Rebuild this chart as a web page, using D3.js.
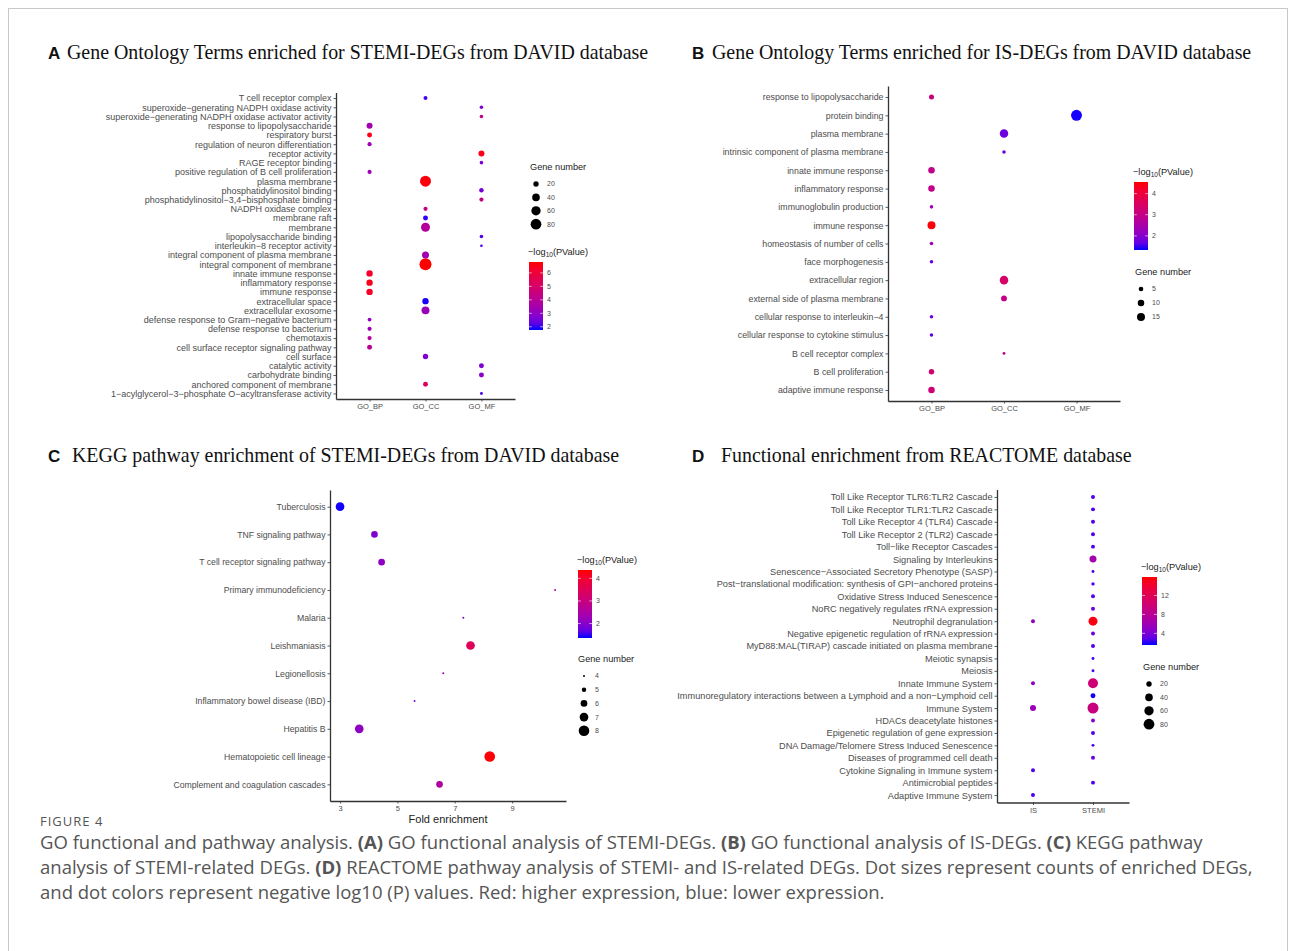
<!DOCTYPE html>
<html>
<head>
<meta charset="utf-8">
<script src="https://cdn.jsdelivr.net/npm/d3@7"></script>
<style>
body { margin: 0; background: #fff; }
text { font-family: "Liberation Sans", Arial, sans-serif; }
</style>
</head>
<body>
<svg id="fig" width="1290" height="951"></svg>
<script>
// ---- A: GO terms, STEMI-DEGs ----
const goStemiTerms = ["T cell receptor complex","superoxide\u2212generating NADPH oxidase activity","superoxide\u2212generating NADPH oxidase activator activity","response to lipopolysaccharide","respiratory burst","regulation of neuron differentiation","receptor activity","RAGE receptor binding","positive regulation of B cell proliferation","plasma membrane","phosphatidylinositol binding","phosphatidylinositol\u22123,4\u2212bisphosphate binding","NADPH oxidase complex","membrane raft","membrane","lipopolysaccharide binding","interleukin\u22128 receptor activity","integral component of plasma membrane","integral component of membrane","innate immune response","inflammatory response","immune response","extracellular space","extracellular exosome","defense response to Gram\u2212negative bacterium","defense response to bacterium","chemotaxis","cell surface receptor signaling pathway","cell surface","catalytic activity","carbohydrate binding","anchored component of membrane","1\u2212acylglycerol\u22123\u2212phosphate O\u2212acyltransferase activity"];
const goStemiOnt = ["GO_CC","GO_MF","GO_MF","GO_BP","GO_BP","GO_BP","GO_MF","GO_MF","GO_BP","GO_CC","GO_MF","GO_MF","GO_CC","GO_CC","GO_CC","GO_MF","GO_MF","GO_CC","GO_CC","GO_BP","GO_BP","GO_BP","GO_CC","GO_CC","GO_BP","GO_BP","GO_BP","GO_BP","GO_CC","GO_MF","GO_MF","GO_CC","GO_MF"];
const goStemiCount = [11,9,9,25,17,12,25,9,12,84,14,12,12,17,56,9,5,34,100,28,28,28,28,44,10,12,12,17,20,17,17,17,6];
const goStemiLogP = [2.0,2.7,4.4,3.4,6.6,3.3,6.6,2.6,3.3,6.7,2.5,4.4,4.4,1.9,3.9,2.1,2.1,3.4,6.8,6.3,6.5,6.3,1.8,3.2,3.1,3.3,3.9,4.0,2.7,2.7,2.9,5.3,2.1];

// ---- B: GO terms, IS-DEGs ----
const goIsTerms = ["response to lipopolysaccharide","protein binding","plasma membrane","intrinsic component of plasma membrane","innate immune response","inflammatory response","immunoglobulin production","immune response","homeostasis of number of cells","face morphogenesis","extracellular region","external side of plasma membrane","cellular response to interleukin\u22124","cellular response to cytokine stimulus","B cell receptor complex","B cell proliferation","adaptive immune response"];
const goIsOnt = ["GO_BP","GO_MF","GO_CC","GO_CC","GO_BP","GO_BP","GO_BP","GO_BP","GO_BP","GO_BP","GO_CC","GO_CC","GO_BP","GO_BP","GO_CC","GO_BP","GO_BP"];
const goIsCount = [6,28,17,3,10,10,3,15,3,3,17,8,3,3,2,7,10];
const goIsLogP = [3.1,1.35,1.75,1.75,2.95,2.95,2.3,4.5,2.3,1.7,3.4,3.0,1.7,1.7,3.0,3.3,3.2];

// ---- C: KEGG, STEMI-DEGs ----
const keggTerms = ["Tuberculosis","TNF signaling pathway","T cell receptor signaling pathway","Primary immunodeficiency","Malaria","Leishmaniasis","Legionellosis","Inflammatory bowel disease (IBD)","Hepatitis B","Hematopoietic cell lineage","Complement and coagulation cascades"];
const keggFold = [3.0,4.2,4.45,10.5,7.3,7.55,6.6,5.6,3.67,8.22,6.47];
const keggCount = [7,6,6,4,4,7,4,4,7,8,6];
const keggLogP = [1.38,1.95,2.1,2.7,1.95,3.5,2.25,1.85,2.1,4.35,2.55];
const keggTicks = [3,5,7,9];

// ---- D: REACTOME ----
const reactTerms = ["Toll Like Receptor TLR6:TLR2 Cascade","Toll Like Receptor TLR1:TLR2 Cascade","Toll Like Receptor 4 (TLR4) Cascade","Toll Like Receptor 2 (TLR2) Cascade","Toll\u2212like Receptor Cascades","Signaling by Interleukins","Senescence\u2212Associated Secretory Phenotype (SASP)","Post\u2212translational modification: synthesis of GPI\u2212anchored proteins","Oxidative Stress Induced Senescence","NoRC negatively regulates rRNA expression","Neutrophil degranulation","Negative epigenetic regulation of rRNA expression","MyD88:MAL(TIRAP) cascade initiated on plasma membrane","Meiotic synapsis","Meiosis","Innate Immune System","Immunoregulatory interactions between a Lymphoid and a non\u2212Lymphoid cell","Immune System","HDACs deacetylate histones","Epigenetic regulation of gene expression","DNA Damage/Telomere Stress Induced Senescence","Diseases of programmed cell death","Cytokine Signaling in Immune system","Antimicrobial peptides","Adaptive Immune System"];
const reactGroups = ["IS","STEMI"];
const isCount = [null,null,null,null,null,null,null,null,null,null,11,null,null,null,null,11,null,25,null,null,null,null,11,null,11];
const isLogP = [null,null,null,null,null,null,null,null,null,null,5.1,null,null,null,null,5.1,null,5.8,null,null,null,null,2.5,null,2.5];
const stemiCount = [11,11,11,11,11,34,6,8,11,11,56,11,11,6,6,69,17,84,11,11,6,11,null,11,null];
const stemiLogP = [2.5,2.5,2.5,2.5,2.5,6.3,2.3,2.5,2.6,3.5,15.5,3.5,2.6,2.3,2.3,9.9,1.6,9.4,4.7,2.6,2.2,3.2,null,2.4,null];

const captionLines = [
  [["GO functional and pathway analysis. ",0],["(A)",1],[" GO functional analysis of STEMI-DEGs. ",0],["(B)",1],[" GO functional analysis of IS-DEGs. ",0],["(C)",1],[" KEGG pathway",0]],
  [["analysis of STEMI-related DEGs. ",0],["(D)",1],[" REACTOME pathway analysis of STEMI- and IS-related DEGs. Dot sizes represent counts of enriched DEGs,",0]],
  [["and dot colors represent negative log10 (P) values. Red: higher expression, blue: lower expression.",0]]
];

const svg = d3.select("#fig");
const defs = svg.append("defs");
const ramp = d3.interpolateLab("#0000ff", "#ff0000");
const axisColor = "#333333";
const labelColor = "#4d4d4d";

// frame
svg.append("rect").attr("x", 8.5).attr("y", 8.5).attr("width", 1279).attr("height", 960)
  .attr("fill", "none").attr("stroke", "#c8c8c8");

function styleAxis(a, fs) {
  a.attr("font-size", null).attr("font-family", null);
  a.select(".domain").attr("stroke", axisColor).attr("stroke-width", 1.3);
  a.selectAll(".tick line").attr("stroke", axisColor).attr("stroke-width", 0.8);
  a.selectAll(".tick text").attr("fill", labelColor).style("font-size", fs + "px");
}

function panel(p) {
  const g = svg.append("g");
  const y = d3.scalePoint().domain(p.terms).range([p.top, p.bottom]).padding(0.6);
  const col = d3.scaleLinear().domain(p.cdomain).range([0, 1]).clamp(true);

  const ya = g.append("g").attr("transform", `translate(${p.left},0)`)
    .call(d3.axisLeft(y).tickSize(2.5).tickSizeOuter(0).tickPadding(2));
  styleAxis(ya, p.yfs);
  const xa = g.append("g").attr("transform", `translate(0,${p.bottom})`)
    .call(p.xAxis.tickSize(2.5).tickSizeOuter(0).tickPadding(2.5));
  styleAxis(xa, p.xfs);

  g.append("g").selectAll("circle")
    .data(p.points)
    .join("circle")
    .attr("cx", d => p.x(d.x))
    .attr("cy", d => y(d.term))
    .attr("r", d => p.size(d.count))
    .attr("fill", d => ramp(col(d.logp)));

  if (p.xlabel) {
    g.append("text").attr("x", (p.x.range()[0] + p.x.range()[1]) / 2).attr("y", p.bottom + 22)
      .attr("text-anchor", "middle").attr("fill", "#222").style("font-size", "11px").text(p.xlabel);
  }
}

function colorBar(id, x, y, w, h, domain, ticks) {
  const gr = defs.append("linearGradient").attr("id", id)
    .attr("x1", 0).attr("y1", 1).attr("x2", 0).attr("y2", 0);
  d3.range(0, 1.0001, 0.1).forEach(t => gr.append("stop").attr("offset", t).attr("stop-color", ramp(t)));
  const g = svg.append("g");
  g.append("text").attr("x", x - 1).attr("y", y - 7).attr("fill", "#222").style("font-size", "9.2px")
    .call(t => {
      t.append("tspan").text("\u2212log");
      t.append("tspan").attr("dy", 2).style("font-size", "6.5px").text("10");
      t.append("tspan").attr("dy", -2).text("(PValue)");
    });
  g.append("rect").attr("x", x).attr("y", y).attr("width", w).attr("height", h).attr("fill", `url(#${id})`);
  const s = d3.scaleLinear().domain(domain).range([y + h, y]);
  ticks.forEach(v => {
    g.append("line").attr("x1", x).attr("x2", x + w / 5).attr("y1", s(v)).attr("y2", s(v)).attr("stroke", "#fff").attr("stroke-width", 0.6);
    g.append("line").attr("x1", x + w - w / 5).attr("x2", x + w).attr("y1", s(v)).attr("y2", s(v)).attr("stroke", "#fff").attr("stroke-width", 0.6);
    g.append("text").attr("x", x + w + 4).attr("y", s(v)).attr("dy", "0.35em").attr("fill", labelColor)
      .style("font-size", "7px").text(v);
  });
}

function sizeLegend(x, y, step, values, size) {
  const g = svg.append("g");
  g.append("text").attr("x", x).attr("y", y).attr("fill", "#222").style("font-size", "9.2px").text("Gene number");
  values.forEach((v, i) => {
    const cy = y + 14 + i * step;
    g.append("circle").attr("cx", x + 6).attr("cy", cy).attr("r", size(v)).attr("fill", "#000");
    g.append("text").attr("x", x + 17).attr("y", cy).attr("dy", "0.35em").attr("fill", labelColor)
      .style("font-size", "7px").text(v);
  });
}

function title(x, y, letter, txt, gap) {
  svg.append("text").attr("x", x).attr("y", y).attr("fill", "#111")
    .style("font-size", "17px").style("font-weight", "bold").text(letter);
  svg.append("text").attr("x", x + gap).attr("y", y).attr("fill", "#111")
    .style("font-family", "'Liberation Serif', 'Times New Roman', serif").style("font-size", "19.9px").text(txt);
}

// ---- panel A ----
const sizeA = d3.scaleSqrt().domain([0, 100]).range([0, 6]);
const xA = d3.scalePoint().domain(["GO_BP","GO_CC","GO_MF"]).range([336, 515]).padding(0.6);
panel({
  terms: goStemiTerms, top: 92.5, bottom: 399, left: 336, x: xA, xAxis: d3.axisBottom(xA),
  yfs: 9, xfs: 7.5, size: sizeA, cdomain: [1.76, 6.81],
  points: goStemiTerms.map((t, i) => ({term: t, x: goStemiOnt[i], count: goStemiCount[i], logp: goStemiLogP[i]}))
});
sizeLegend(530, 170, 13.4, [20, 40, 60, 80], sizeA);
colorBar("gA", 529, 262, 14, 68, [1.76, 6.81], [2, 3, 4, 5, 6]);
title(48, 59, "A", "Gene Ontology Terms enriched for STEMI-DEGs from DAVID database", 19);

// ---- panel B ----
const sizeB = d3.scaleSqrt().domain([0, 30]).range([0, 5.65]);
const xB = d3.scalePoint().domain(["GO_BP","GO_CC","GO_MF"]).range([888, 1120]).padding(0.6);
panel({
  terms: goIsTerms, top: 86, bottom: 401, left: 888, x: xB, xAxis: d3.axisBottom(xB),
  yfs: 8.8, xfs: 7.5, size: sizeB, cdomain: [1.33, 4.55],
  points: goIsTerms.map((t, i) => ({term: t, x: goIsOnt[i], count: goIsCount[i], logp: goIsLogP[i]}))
});
colorBar("gB", 1134, 182, 14, 68, [1.33, 4.55], [2, 3, 4]);
sizeLegend(1135, 275, 14, [5, 10, 15], sizeB);
title(692, 59, "B", "Gene Ontology Terms enriched for IS-DEGs from DAVID database", 20);

// ---- panel C ----
const sizeC = d3.scaleSqrt().domain([4, 8]).range([1, 5.3]);
const xC = d3.scaleLinear().domain([2.65, 10.88]).range([330, 566]);
panel({
  terms: keggTerms, top: 490, bottom: 801, left: 330, x: xC, xAxis: d3.axisBottom(xC).tickValues(keggTicks),
  yfs: 8.7, xfs: 7.5, size: sizeC, cdomain: [1.36, 4.37], xlabel: "Fold enrichment",
  points: keggTerms.map((t, i) => ({term: t, x: keggFold[i], count: keggCount[i], logp: keggLogP[i]}))
});
colorBar("gC", 578, 570, 14, 68, [1.36, 4.37], [2, 3, 4]);
sizeLegend(578, 662, 13.7, [4, 5, 6, 7, 8], sizeC);
title(48, 462, "C", "KEGG pathway enrichment of STEMI-DEGs from DAVID database", 24);

// ---- panel D ----
const xD = d3.scalePoint().domain(reactGroups).range([997, 1129]).padding(0.6);
const ptsD = [];
reactTerms.forEach((t, i) => {
  if (isCount[i] !== null) ptsD.push({term: t, x: "IS", count: isCount[i], logp: isLogP[i]});
  if (stemiCount[i] !== null) ptsD.push({term: t, x: "STEMI", count: stemiCount[i], logp: stemiLogP[i]});
});
panel({
  terms: reactTerms, top: 489.5, bottom: 802.5, left: 997, x: xD, xAxis: d3.axisBottom(xD),
  yfs: 9.2, xfs: 7.5, size: sizeA, cdomain: [1.54, 15.9], points: ptsD
});
colorBar("gD", 1142, 577, 15, 68, [1.54, 15.9], [4, 8, 12]);
sizeLegend(1143, 670, 13.4, [20, 40, 60, 80], sizeA);
title(692, 462, "D", "Functional enrichment from REACTOME database", 29);

// ---- caption ----
svg.append("text").attr("x", 40).attr("y", 826).attr("fill", "#555")
  .style("font-family", "'Open Sans', sans-serif").style("font-size", "13px").style("letter-spacing", "1px")
  .text("FIGURE 4");
captionLines.forEach((line, i) => {
  const t = svg.append("text").attr("x", 40).attr("y", 849 + i * 25).attr("fill", "#555")
    .style("font-family", "'Open Sans', sans-serif").style("font-size", "18.5px");
  line.forEach(([s, b]) => t.append("tspan").style("font-weight", b ? "bold" : null).text(s));
});
</script>
</body>
</html>
